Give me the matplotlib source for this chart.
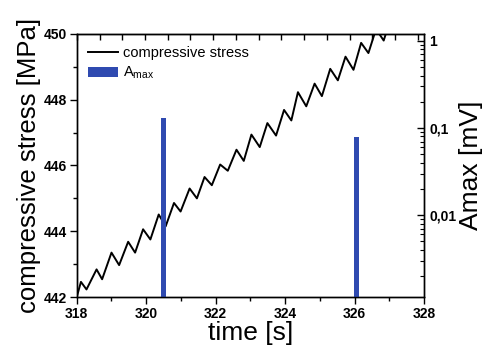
import numpy as np
from matplotlib import pyplot as plt
from matplotlib.ticker import MultipleLocator, FixedLocator, LogLocator, NullFormatter

plt.rcParams['font.family'] = ['Liberation Sans', 'DejaVu Sans']

# compressive stress: peaks / troughs
time_s = [318.0, 318.12, 318.28, 318.57, 318.73, 319.0, 319.22, 319.48, 319.68,
          319.91, 320.12, 320.36, 320.56, 320.80, 320.99, 321.25, 321.46, 321.68,
          321.89, 322.13, 322.35, 322.60, 322.81, 323.03, 323.27, 323.49, 323.74,
          323.97, 324.18, 324.37, 324.61, 324.85, 325.06, 325.30, 325.52, 325.74,
          325.97, 326.19, 326.40, 326.62, 326.84, 327.05]
stress = [442.0, 442.46, 442.23, 442.84, 442.54, 443.35, 442.97, 443.68, 443.35,
          444.06, 443.75, 444.51, 444.15, 444.86, 444.60, 445.30, 445.00, 445.65,
          445.40, 446.03, 445.84, 446.48, 446.14, 446.94, 446.56, 447.29, 446.91,
          447.69, 447.37, 448.23, 447.80, 448.49, 448.11, 448.94, 448.59, 449.31,
          448.91, 449.73, 449.42, 450.15, 449.80, 450.50]

# Amax events
t_amax = [320.5, 326.05]
amax = [0.13, 0.079]

fig = plt.figure(figsize=(4.89, 3.54), dpi=100)
ax = fig.add_axes([0.157, 0.161, 0.71, 0.743])
ax2 = ax.twinx()

ymin2 = 0.00115
ax.plot(time_s, stress, color='k', lw=1.4, label='compressive stress')
ax2.set_yscale('log')
ax2.bar(t_amax, [a - ymin2 * 0.5 for a in amax], width=0.15, bottom=ymin2 * 0.5,
        color='#2f4ab0', label=r'A$_\mathregular{max}$')

ax.set_xlim(318, 328)
ax.set_ylim(442, 450)
ax2.set_ylim(ymin2, 1.2)

ax.xaxis.set_major_locator(MultipleLocator(2))
ax.xaxis.set_minor_locator(MultipleLocator(1))
ax.yaxis.set_major_locator(MultipleLocator(2))
ax.yaxis.set_minor_locator(MultipleLocator(1))
ax.tick_params(which='both', direction='out', top=False, right=False, labelsize=10, pad=2)
ax.tick_params(which='major', length=5, width=1)
ax.tick_params(which='minor', length=3, width=1)
for lab in ax.get_xticklabels() + ax.get_yticklabels():
    lab.set_fontweight('bold')

ax2.yaxis.set_major_locator(FixedLocator([0.01, 0.1, 1]))
ax2.yaxis.set_minor_locator(LogLocator(base=10, subs=np.arange(2, 10)))
ax2.yaxis.set_minor_formatter(NullFormatter())
ax2.set_yticklabels(['0,01', '0,1', '1'])
ax2.tick_params(which='both', direction='in', labelsize=10, pad=4)
ax2.tick_params(which='major', length=5, width=1)
ax2.tick_params(which='minor', length=3, width=0.8)
for lab in ax2.get_yticklabels():
    lab.set_fontweight('bold')

# unlabelled top axis ticks
top = ax.secondary_xaxis('top')
top.xaxis.set_major_locator(FixedLocator(np.arange(318, 328.01, 0.655)))
top.tick_params(direction='in', length=4, width=1, labeltop=False)

for sp in list(ax.spines.values()) + list(ax2.spines.values()):
    sp.set_linewidth(1)

ax.set_xlabel('time [s]', fontsize=19, labelpad=0)
ax.set_ylabel('compressive stress [MPa]', fontsize=18.5, labelpad=2)
ax2.set_ylabel('Amax [mV]', fontsize=19, labelpad=2)

h1, l1 = ax.get_legend_handles_labels()
h2, l2 = ax2.get_legend_handles_labels()
ax2.legend(h1 + h2, l1 + l2, loc='upper left', frameon=False, fontsize=10.5,
           handlelength=2.0, handletextpad=0.4, labelspacing=0.35,
           borderaxespad=0.4)

fig.savefig('out.png', dpi=100)
